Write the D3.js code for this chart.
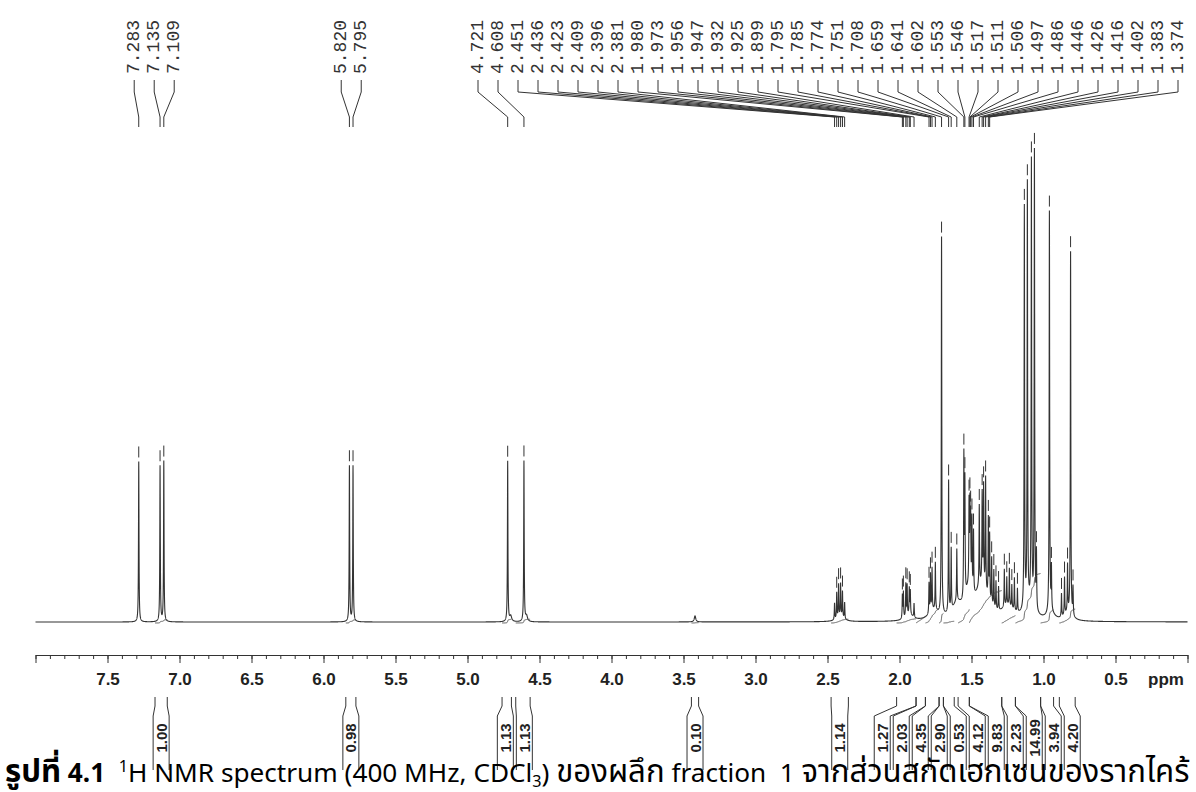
<!DOCTYPE html>
<html>
<head>
<meta charset="utf-8">
<script src="https://cdn.jsdelivr.net/npm/d3@7"></script>
<style>
body { margin: 0; background: #fff; }
</style>
</head>
<body>
<div id="chart"></div>
<script>
// picked peaks (ppm) printed on top, and their heights (% of tallest line)
var peakLabels = [7.283, 7.135, 7.109, 5.820, 5.795, 4.721, 4.608,
    2.451, 2.436, 2.423, 2.409, 2.396, 2.381,
    1.980, 1.973, 1.956, 1.947, 1.932, 1.925, 1.899,
    1.795, 1.785, 1.774, 1.751, 1.708, 1.659, 1.641, 1.602,
    1.553, 1.546, 1.517, 1.511, 1.506, 1.497, 1.486,
    1.446, 1.426, 1.416, 1.402, 1.383, 1.374];
var labelHeights = [34, 33, 34, 33, 33, 34, 34,
    3.5, 5.5, 7, 7, 5.5, 3.5,
    5, 5.5, 7, 6.5, 5.5, 5, 3,
    6.5, 8, 9, 10, 80, 28, 13, 11,
    30, 24, 17, 16, 14, 15, 13,
    17, 19, 21, 24, 17, 14];

// other sharp lines without printed labels [ppm, height]
var extraPeaks = [[1.360, 10], [1.345, 8], [1.330, 6], [1.312, 5],
    [1.272, 8], [1.255, 6], [1.237, 8], [1.220, 5], [1.202, 7], [1.181, 5],
    [1.133, 85], [1.112, 89], [1.084, 94], [1.063, 97], [1.049, 12],
    [0.959, 85], [0.945, 9],
    [0.875, 5], [0.854, 8], [0.833, 10], [0.812, 77], [0.795, 6]];

// broad humps [ppm, height, half width ppm]
var broadPeaks = [[3.42, 1.3, 0.006], [4.700, 1.2, 0.008], [4.590, 1.2, 0.008],
    [2.41, 1.0, 0.03], [1.93, 1.2, 0.03], [1.76, 2, 0.04], [1.60, 3, 0.04],
    [1.52, 5, 0.03], [1.43, 7, 0.05], [1.25, 2.5, 0.05], [1.10, 3, 0.04],
    [0.95, 1.5, 0.03], [0.83, 1.5, 0.03]];

// integrals [from ppm, to ppm, value]
var integrals = [[7.170, 7.085, '1.00'], [5.845, 5.775, '0.98'],
    [4.760, 4.695, '1.13'], [4.665, 4.565, '1.13'], [3.445, 3.395, '0.10'],
    [2.475, 2.355, '1.14'], [2.02, 1.885, '1.27'], [1.885, 1.82, '2.03'],
    [1.82, 1.725, '4.35'], [1.725, 1.695, '2.90'], [1.695, 1.62, '0.53'],
    [1.593, 1.515, '4.12'], [1.515, 1.29, '9.83'], [1.29, 1.195, '2.23'],
    [1.195, 1.02, '14.99'], [1.02, 0.93, '3.94'], [0.89, 0.78, '4.20']];

var majorTicks = [7.5, 7.0, 6.5, 6.0, 5.5, 5.0, 4.5, 4.0, 3.5, 3.0, 2.5, 2.0, 1.5, 1.0, 0.5];

var width = 1196, height = 792;
var svg = d3.select('#chart').append('svg')
    .attr('width', width)
    .attr('height', height)
    .style('font-family', 'Liberation Sans, Arial, sans-serif');

var x = d3.scaleLinear().domain([8.0, 0.0]).range([35.5, 1187.5]);
var y = d3.scaleLinear().domain([0, 100]).range([622, 150]);

var sharp = peakLabels.map(function(p, i){ return [p, labelHeights[i]]; }).concat(extraPeaks);
var lw = 0.002;

function intensity(p){
    var s = 0;
    sharp.forEach(function(d){ var u = (p - d[0]) / lw; s += d[1] / (1 + u * u); });
    broadPeaks.forEach(function(d){ var u = (p - d[0]) / d[2]; s += d[1] / (1 + u * u); });
    return s;
}

var pts = d3.range(0, 16001).map(function(i){ var p = 8 - i * 0.0005; return [p, intensity(p)]; });

var line = d3.line()
    .x(function(d){ return x(d[0]); })
    .y(function(d){ return y(d[1]); });

//Spectrum
svg.append('path')
    .datum(pts)
    .attr('d', line)
    .attr('fill', 'none')
    .attr('stroke', '#333')
    .attr('stroke-width', 1.1);

//Peak marks above each picked line
svg.selectAll('.mark')
    .data(sharp.filter(function(d){ return d[1] >= 4; }))
    .enter()
    .append('line')
    .attr('x1', function(d){ return x(d[0]); })
    .attr('x2', function(d){ return x(d[0]); })
    .attr('y1', function(d){ return y(intensity(d[0])) - 15; })
    .attr('y2', function(d){ return y(intensity(d[0])) - 4; })
    .attr('stroke', '#333')
    .attr('stroke-width', 1);

//Integral curves
integrals.forEach(function(g){
    var seg = pts.filter(function(d){ return d[0] <= g[0] && d[0] >= g[1]; });
    var total = d3.sum(seg, function(d){ return d[1]; });
    var acc = 0;
    var curve = seg.map(function(d){ acc += d[1]; return [d[0], acc / total * +g[2]]; });
    svg.append('path')
        .datum(curve)
        .attr('d', d3.line()
            .x(function(d){ return x(d[0]); })
            .y(function(d){ return 623 - d[1] * 3.3; }))
        .attr('fill', 'none')
        .attr('stroke', '#555')
        .attr('stroke-width', 1);
});

//spread labels so they don't overlap
function spread(ideal, gap, lo, hi){
    var groups = [];
    ideal.forEach(function(v){
        groups.push({sum: v, n: 1});
        while (true) {
            var g = groups[groups.length - 1];
            g.first = Math.min(Math.max(g.sum / g.n - (g.n - 1) * gap / 2, lo), hi - (g.n - 1) * gap);
            var prev = groups[groups.length - 2];
            if (prev && prev.first + prev.n * gap > g.first + 0.01) {
                prev.sum += g.sum; prev.n += g.n; groups.pop();
            } else break;
        }
    });
    var out = [];
    groups.forEach(function(g){ for (var k = 0; k < g.n; k++) out.push(g.first + k * gap); });
    return out;
}

//Peak labels on top
var labelX = spread(peakLabels.map(function(p){ return x(p); }), 20, 10, 1178);
var topG = svg.append('g');
peakLabels.forEach(function(p, i){
    var lx = labelX[i], px = x(p);
    topG.append('text')
        .attr('transform', 'translate(' + lx + ',74) rotate(-90)')
        .attr('dominant-baseline', 'central')
        .style('font-family', 'Liberation Mono, DejaVu Sans Mono, monospace')
        .style('font-size', '18px')
        .attr('fill', '#333')
        .text(p.toFixed(3));
    topG.append('path')
        .attr('d', 'M' + lx + ',80V92L' + px + ',117V127')
        .attr('fill', 'none')
        .attr('stroke', '#333')
        .attr('stroke-width', 1);
});

//Axis
var axisG = svg.append('g').attr('transform', 'translate(0,655)');
var minor = d3.range(0, 81).map(function(i){ return i / 10; });
axisG.call(d3.axisBottom(x).tickValues(minor).tickSize(4).tickSizeOuter(0).tickFormat(''));
axisG.append('g').call(d3.axisBottom(x).tickValues(majorTicks.concat([8, 0])).tickSize(8)
    .tickSizeOuter(0).tickPadding(10)
    .tickFormat(function(d){ return (d === 8 || d === 0) ? '' : d.toFixed(1); }));
axisG.selectAll('path.domain').attr('stroke', '#333');
axisG.selectAll('line').attr('stroke', '#333');
axisG.selectAll('text')
    .style('font-family', 'Liberation Sans, Arial, sans-serif')
    .style('font-size', '17px')
    .style('font-weight', 'bold')
    .attr('fill', '#222');
svg.append('text')
    .attr('x', 1148).attr('y', 685)
    .style('font-size', '17px').style('font-weight', 'bold')
    .attr('fill', '#222')
    .text('ppm');

//Integral labels below the axis
var mids = integrals.map(function(g){ return (x(g[0]) + x(g[1])) / 2; });
var boxX = spread(mids, 19, 10, 1190);
integrals.forEach(function(g, i){
    var xl = x(g[0]), xr = x(g[1]), c = boxX[i];
    svg.append('path')
        .attr('d', 'M' + xl + ',697V706L' + (c - 8) + ',716V770M' + xr + ',697V706L' + (c + 8) + ',716V770')
        .attr('fill', 'none')
        .attr('stroke', '#333')
        .attr('stroke-width', 1);
    svg.append('text')
        .attr('transform', 'translate(' + c + ',738) rotate(-90)')
        .attr('text-anchor', 'middle')
        .attr('dominant-baseline', 'central')
        .style('font-size', '15px')
        .style('font-weight', 'bold')
        .attr('fill', '#222')
        .text(g[2]);
});

//Caption: Thai runs are set larger than the Latin runs
var cap = svg.append('text')
    .attr('x', 5).attr('y', 782)
    .attr('xml:space', 'preserve')
    .style('font-family', 'Noto Sans, Noto Sans Thai, sans-serif')
    .attr('fill', '#000');
var parts = [
    ['รูปที่', 25, 0, true], [' 4.1  ', 21, 0, true], ['1', 13, -10, false],
    ['H NMR spectrum (400 MHz, CDCl', 21, 10, false], ['3', 13, 5, false],
    [') ', 21, -5, false], ['ของผลึก', 25, 0, false], [' fraction  1 ', 21, 0, false],
    ['จากส่วนสกัดเฮกเซนของรากไคร้', 25, 0, false]];
parts.forEach(function(t){
    cap.append('tspan')
        .attr('dy', t[2])
        .attr('data-size', t[1])
        .style('font-size', t[1] + 'px')
        .style('font-weight', t[3] ? 'bold' : 'normal')
        .text(t[0]);
});
var len = cap.node().getComputedTextLength();
if (len > 0) {
    var k = 1185 / len;
    cap.selectAll('tspan').each(function(){
        var s = +this.getAttribute('data-size');
        d3.select(this).style('font-size', (s * k) + 'px');
    });
}
</script>
</body>
</html>
